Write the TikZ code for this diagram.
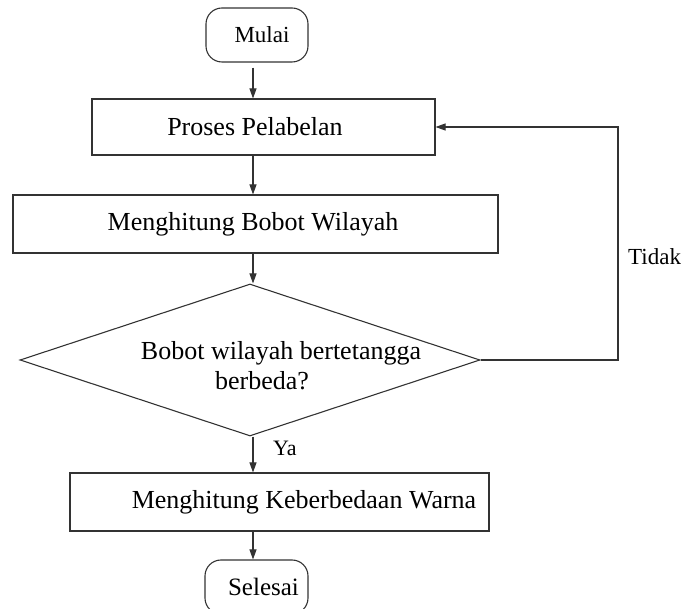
\documentclass[tikz,border=0pt]{standalone}
\usepackage{fontspec}
\setmainfont{Liberation Serif}
\usetikzlibrary{shapes.geometric,arrows.meta}
\begin{document}
\begin{tikzpicture}[x=1pt,y=-1pt,
  ln/.style={draw=black!80, line width=1.1pt},
  arr/.style={ln, -{Triangle[length=10pt,width=7pt]}},
  proc/.style={rectangle, ln, inner sep=0pt, font=\fontsize{26}{30}\selectfont},
  term/.style={rectangle, rounded corners=16pt, ln, inner sep=0pt},
  dia/.style={diamond, ln, inner sep=0pt},
  lbl/.style={inner sep=0pt, font=\fontsize{23}{27}\selectfont}
]
\useasboundingbox (0,0) rectangle (686,609);
\node[term, minimum width=102pt, minimum height=54pt, font=\fontsize{23}{27}\selectfont] (mulai) at (257,35) {\hspace*{10pt}Mulai};
\node[proc, minimum width=343pt, minimum height=56pt] (p1) at (263.5,127) {Proses Pelabelan\hspace*{17pt}};
\node[proc, minimum width=485pt, minimum height=58pt] (p2) at (255.5,224) {Menghitung Bobot Wilayah\hspace*{5pt}};
\node[dia, minimum width=460pt, minimum height=152pt] (dec) at (250,360) {};
\node[inner sep=0pt, align=center, font=\fontsize{26}{30}\selectfont] (dect) at (281,366) {Bobot wilayah bertetangga\\berbeda?\hspace*{38pt}};
\node[proc, minimum width=419pt, minimum height=58pt] (p3) at (279.5,502) {\hspace*{49pt}Menghitung Keberbedaan Warna};
\node[term, minimum width=103pt, minimum height=54pt, font=\fontsize{25}{29}\selectfont] (sel) at (256.5,587) {\hspace*{14pt}Selesai};
\node[lbl, anchor=west] (tidak) at (628,257) {Tidak};
\node[lbl, anchor=west, font=\fontsize{22}{26}\selectfont] (ya) at (273,448) {Ya};
\coordinate (cx) at (253,0);
\coordinate (fb) at (618,0);
\draw[arr, shorten <=5pt] (mulai.south -| cx) -- (p1.north -| cx);
\draw[arr] (p1.south -| cx) -- (p2.north -| cx);
\draw[arr] (p2.south -| cx) -- (dec.north -| cx);
\draw[arr] (dec.south -| cx) -- (p3.north -| cx);
\draw[arr] (p3.south -| cx) -- (sel.north -| cx);
\draw[arr] (dec.east) -- (dec.east -| fb) -- (fb |- p1.east) -- (p1.east);
\end{tikzpicture}
\end{document}
